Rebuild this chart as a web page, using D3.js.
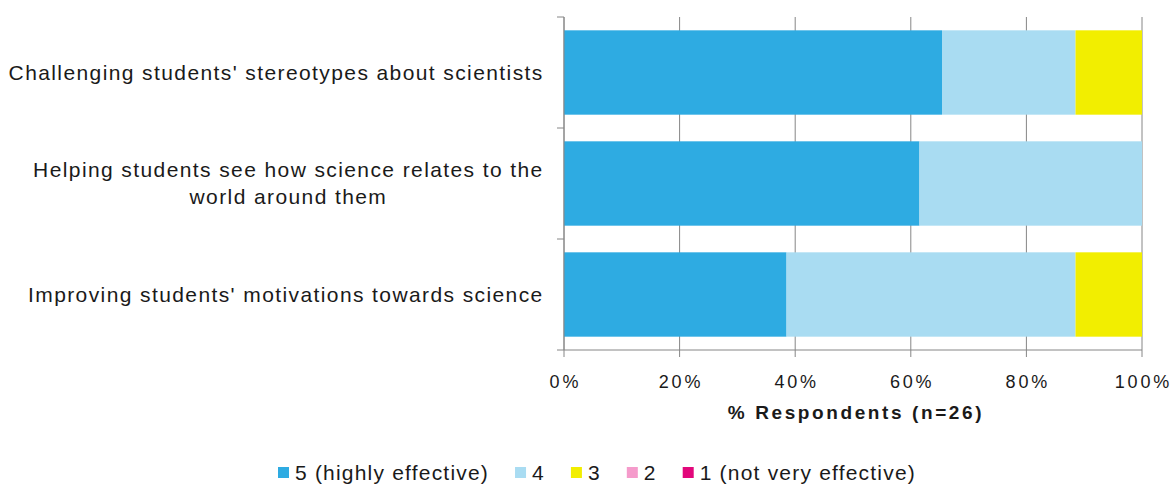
<!DOCTYPE html>
<html>
<head>
<meta charset="utf-8">
<script src="https://cdn.jsdelivr.net/npm/d3@7"></script>
<style>
  body { margin: 0; background: #fff; }
  svg { font-family: "Liberation Sans", Arial, sans-serif; }
</style>
</head>
<body>
<svg width="1174" height="490"></svg>
<script>
'use strict';

// categories, top to bottom (each label line separate)
var categories = [
    ['Challenging students\' stereotypes about scientists'],
    ['Helping students see how science relates to the', 'world around them'],
    ['Improving students\' motivations towards science']
];
// rating levels and their percentages per category (n=26)
var levels = ['5 (highly effective)', '4', '3', '2', '1 (not very effective)'];
var colors = ['#2eabe2', '#a9dcf2', '#f2ee00', '#f59bcb', '#e2077b'];
var values = [
    [65.4, 23.1, 11.5, 0, 0],
    [61.5, 38.5, 0, 0, 0],
    [38.5, 50.0, 11.5, 0, 0]
];
var ticks = [0, 20, 40, 60, 80, 100];

var svg = d3.select('svg');
var plotLeft = 564, plotRight = 1142, plotTop = 17, plotBottom = 350;

var x = d3.scaleLinear().domain([0, 100]).range([plotLeft, plotRight]);
var y = d3.scaleBand().domain(d3.range(categories.length)).range([plotTop, plotBottom]).paddingInner(0.24).paddingOuter(0.12);

// gridlines
svg.append('g')
    .selectAll('line')
    .data(ticks)
    .enter()
    .append('line')
    .attr('x1', function (d) { return x(d); })
    .attr('x2', function (d) { return x(d); })
    .attr('y1', plotTop)
    .attr('y2', plotBottom + 7)
    .attr('stroke', '#868686')
    .attr('stroke-width', 1);

// bars
var stacks = values.map(function (row) {
    var acc = 0;
    return row.map(function (v, j) {
        var s = {x0: acc, x1: acc + v, level: j};
        acc += v;
        return s;
    });
});

svg.append('g')
    .selectAll('g')
    .data(stacks)
    .enter()
    .append('g')
    .each(function (row, i) {
        d3.select(this).selectAll('rect')
            .data(row.filter(function (s) { return s.x1 > s.x0; }))
            .enter()
            .append('rect')
            .attr('x', function (s) { return x(s.x0); })
            .attr('width', function (s) { return x(s.x1) - x(s.x0); })
            .attr('y', y(i))
            .attr('height', y.bandwidth())
            .attr('fill', function (s) { return colors[s.level]; });
    });

// axes lines
svg.append('line')
    .attr('x1', plotLeft).attr('x2', plotLeft)
    .attr('y1', plotTop).attr('y2', plotBottom)
    .attr('stroke', '#868686');
svg.append('line')
    .attr('x1', plotLeft).attr('x2', plotRight)
    .attr('y1', plotBottom).attr('y2', plotBottom)
    .attr('stroke', '#868686');

// category boundary ticks on y axis
var step = (plotBottom - plotTop) / categories.length;
svg.append('g')
    .selectAll('line')
    .data(d3.range(categories.length + 1))
    .enter()
    .append('line')
    .attr('x1', plotLeft - 7).attr('x2', plotLeft)
    .attr('y1', function (d) { return plotTop + d * step; })
    .attr('y2', function (d) { return plotTop + d * step; })
    .attr('stroke', '#868686');

// x tick labels
svg.append('g')
    .selectAll('text')
    .data(ticks)
    .enter()
    .append('text')
    .text(function (d) { return d + '%'; })
    .attr('x', function (d) { return x(d) + 1.4; })
    .attr('y', 388)
    .attr('text-anchor', 'middle')
    .attr('font-size', 18)
    .attr('letter-spacing', 2.8)
    .attr('fill', '#1a1a1a');

// axis title
svg.append('text')
    .text('% Respondents (n=26)')
    .attr('x', 856)
    .attr('y', 419)
    .attr('text-anchor', 'middle')
    .attr('font-size', 19)
    .attr('font-weight', 'bold')
    .attr('letter-spacing', 2.6)
    .attr('fill', '#1a1a1a');

// category labels: block right-aligned, lines centred in block
var labelRight = 543;
svg.append('g')
    .selectAll('text')
    .data(categories)
    .enter()
    .append('text')
    .attr('text-anchor', 'middle')
    .attr('font-size', 21)
    .attr('letter-spacing', 1.4)
    .attr('fill', '#1a1a1a')
    .each(function (lines, i) {
        var t = d3.select(this);
        var cy = y(i) + y.bandwidth() / 2;
        var lh = 27;
        var spans = lines.map(function (ln, k) {
            return t.append('tspan')
                .attr('y', cy + 7 + (k - (lines.length - 1) / 2) * lh)
                .text(ln);
        });
        var maxW = d3.max(spans, function (s) { return s.node().getComputedTextLength(); });
        spans.forEach(function (s) { s.attr('x', labelRight - maxW / 2 + 0.7); });
    });

// legend: laid out left to right from measured text widths
var legendStart = 278, legendGap = 26;
var lg = svg.append('g')
    .selectAll('g')
    .data(levels)
    .enter()
    .append('g');
lg.append('rect')
    .attr('x', 0).attr('y', 467)
    .attr('width', 11).attr('height', 11)
    .attr('fill', function (d, i) { return colors[i]; });
lg.append('text')
    .text(function (d) { return d; })
    .attr('x', 17)
    .attr('y', 480)
    .attr('font-size', 21)
    .attr('letter-spacing', 1.2)
    .attr('fill', '#1a1a1a');
var cursor = legendStart;
lg.each(function () {
    var g = d3.select(this);
    g.attr('transform', 'translate(' + cursor + ',0)');
    cursor += 17 + g.select('text').node().getComputedTextLength() + legendGap;
});
</script>
</body>
</html>
